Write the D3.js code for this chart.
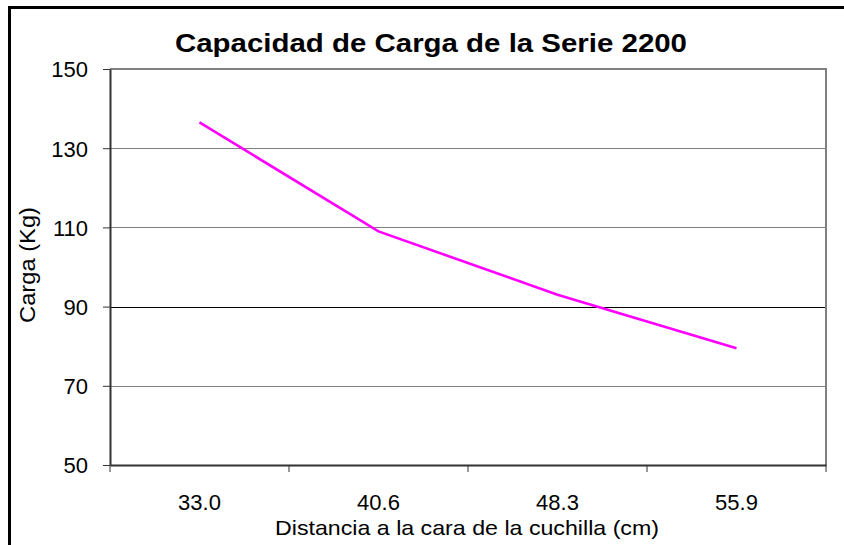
<!DOCTYPE html>
<html>
<head>
<meta charset="utf-8">
<script src="https://cdnjs.cloudflare.com/ajax/libs/d3/7.8.5/d3.min.js"></script>
<style>
  body { margin: 0; background: #fff; }
  svg { display: block; font-family: "Liberation Sans", Arial, sans-serif; }
</style>
</head>
<body>
<svg id="chart" width="844" height="545"></svg>
<script>
const categories = ['33.0', '40.6', '48.3', '55.9'];
const carga = [136.5, 109, 93, 79.5];
const yTicks = [50, 70, 90, 110, 130, 150];

const svg = d3.select('#chart');
const plot = { left: 110, right: 826, top: 69, bottom: 465 };

// outer frame (only top and left edges visible in the crop)
svg.append('path')
  .attr('d', `M9.5,545V7.5H844`)
  .attr('fill', 'none')
  .attr('stroke', '#000')
  .attr('stroke-width', 3);

const x = d3.scaleBand()
  .domain(categories)
  .range([plot.left, plot.right])
  .padding(0);

const y = d3.scaleLinear()
  .domain([50, 150])
  .range([plot.bottom, plot.top]);

// gridlines
svg.append('g')
  .selectAll('line')
  .data(yTicks.filter(v => v > 50 && v < 150))
  .join('line')
  .attr('x1', plot.left)
  .attr('x2', plot.right)
  .attr('y1', d => Math.round(y(d)) + 0.5)
  .attr('y2', d => Math.round(y(d)) + 0.5)
  .attr('stroke', d => d === 90 ? '#000' : '#808080')
  .attr('stroke-width', 1);

// top and right plot border
svg.append('path')
  .attr('d', `M${plot.left},${plot.top}H${plot.right}V${plot.bottom}`)
  .attr('fill', 'none')
  .attr('stroke', '#808080')
  .attr('stroke-width', 2);

// y axis
const yAxis = svg.append('g')
  .attr('transform', `translate(${plot.left},0)`)
  .call(d3.axisLeft(y).tickValues(yTicks).tickSize(7).tickPadding(15).tickSizeOuter(0));
yAxis.select('.domain').attr('stroke', '#333').attr('stroke-width', 2);
yAxis.selectAll('.tick line').attr('stroke', '#333');
yAxis.selectAll('.tick text')
  .attr('font-size', 22)
  .attr('fill', '#000')
  .attr('dy', '0.36em');

// x axis: labels centred in bands, ticks on band edges
const xAxis = svg.append('g')
  .attr('transform', `translate(0,${plot.bottom})`)
  .call(d3.axisBottom(x).tickSize(0).tickPadding(30).tickSizeOuter(0));
xAxis.select('.domain').attr('stroke', '#333').attr('stroke-width', 2);
xAxis.selectAll('.tick text')
  .attr('font-size', 22)
  .attr('fill', '#000')
  .attr('dy', '0.71em')
  .attr('y', 29);

const edges = categories.map(c => x(c)).concat([x.range()[1]]);
svg.append('g')
  .selectAll('line')
  .data(edges)
  .join('line')
  .attr('x1', d => d)
  .attr('x2', d => d)
  .attr('y1', plot.bottom)
  .attr('y2', plot.bottom + 7)
  .attr('stroke', '#333');

// series
const line = d3.line()
  .x((d, i) => x(categories[i]) + x.bandwidth() / 2)
  .y(d => y(d));

svg.append('path')
  .datum(carga)
  .attr('d', line)
  .attr('fill', 'none')
  .attr('stroke', '#ff00ff')
  .attr('stroke-width', 2.6);

// titles (the reference glyphs are a bit wider than Liberation, so stretch to fit)
svg.append('text')
  .attr('x', 431)
  .attr('y', 52)
  .attr('text-anchor', 'middle')
  .attr('font-size', 26)
  .attr('font-weight', 'bold')
  .attr('textLength', 512)
  .attr('lengthAdjust', 'spacingAndGlyphs')
  .text('Capacidad de Carga de la Serie 2200');

svg.append('text')
  .attr('x', 467)
  .attr('y', 535)
  .attr('text-anchor', 'middle')
  .attr('font-size', 21)
  .attr('textLength', 384)
  .attr('lengthAdjust', 'spacingAndGlyphs')
  .text('Distancia a la cara de la cuchilla (cm)');

svg.append('text')
  .attr('transform', 'translate(35,265) rotate(-90)')
  .attr('text-anchor', 'middle')
  .attr('font-size', 22)
  .attr('textLength', 116)
  .attr('lengthAdjust', 'spacingAndGlyphs')
  .text('Carga (Kg)');
</script>
</body>
</html>
